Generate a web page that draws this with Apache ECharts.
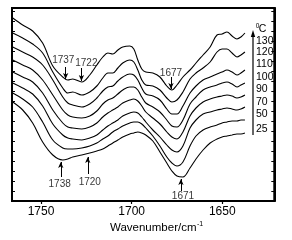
<!DOCTYPE html>
<html><head><meta charset="utf-8">
<script src="https://cdn.jsdelivr.net/npm/echarts@6/dist/echarts.min.js"></script>
<style>html,body{margin:0;padding:0;background:#fff}#c{width:292px;height:240px}</style>
</head><body><div id="c"></div>
<script>
// Wavenumber samples (cm-1)
const wavenumbers = [1765.6,1760.1,1754.6,1749.1,1743.5,1738.0,1735.2,1732.5,1727.5,1723.1,1719.2,1715.9,1713.1,1710.4,1707.6,1704.9,1701.0,1698.8,1696.6,1694.4,1692.2,1688.3,1684.4,1680.6,1677.8,1675.0,1671.7,1667.8,1664.5,1660.6,1656.7,1652.9,1650.1,1647.4,1644.6,1641.9,1639.7,1637.5];
// Temperatures (°C), top to bottom
const temperatures = ['130','120','110','100','90','70','50','25'];
// Offset absorbance traces (arbitrary units, stacked)
const t130 = [183,176,170,158,135,124,121,122,119,126,136,144,148,147,151,154,155,152,141,132,129,128,124,115,111,116,124,131,138,146,154,166,167,169,165,162,164,168];
const t120 = [168,163,157,148,129,113,108,109,106,109,115,123,128,128,133,138,141,139,131,121,116,115,111,103,99,101,109,122,128,133,139,149,152,152,148,144,146,149];
const t110 = [154,149,144,136,121,104,98,96,94,97,103,110,114,115,120,124,127,126,121,113,107,105,101,92,87,87,95,108,115,121,124,127,129,131,129,126,128,131];
const t100 = [141,136,131,121,106,91,86,84,83,85,90,97,101,103,107,111,114,114,111,104,98,94,89,81,75,74,81,97,104,111,114,116,118,119,117,114,116,118];
const t90  = [129,124,119,108,91,78,74,73,72,74,78,84,88,91,94,98,101,102,100,95,89,83,77,69,64,62,69,85,93,99,102,104,105,106,105,103,104,106];
const t70  = [118,113,107,95,77,66,63,62,61,63,66,71,75,78,81,85,88,89,88,84,79,71,64,56,51,49,55,73,81,87,89,91,92,93,92,91,92,94];
const t50  = [108,102,94,79,61,53,52,52,53,55,58,62,65,69,72,75,78,79,79,77,73,65,55,44,38,35,39,55,65,71,74,76,78,79,80,80,81,81];
const t25  = [99,91,78,59,46,41,42,44,46,48,50,52,55,58,61,64,67,68,69,68,66,60,49,38,30,25,24,33,42,51,58,62,64,65,66,67,67,68];
const traces = [t130,t120,t110,t100,t90,t70,t50,t25];
// X tick labels
const xTicks = [1750,1700,1650];
// Peak annotations: label, label position, arrow tail, arrow tip (data coords)
const peakLabels = ['1737','1722','1677','1738','1720','1671'];
const peakLabelPos = [[1737.7,141],[1725.0,138],[1678.3,128],[1739.7,16.5],[1723.1,18.3],[1671.7,5]];
const arrowTail = [[1736.4,134],[1727.7,133],[1678.3,124],[1739.1,24],[1724.2,27],[1672.8,10]];
const arrowTip  = [[1736.4,122],[1727.7,120],[1678.3,112],[1739.1,39],[1724.2,44],[1672.8,22]];

const FONT = "'Liberation Sans', Arial, sans-serif";
const chart = echarts.init(document.getElementById('c'), null, {renderer:'canvas'});

const series = traces.map((d,i)=>({
  name: temperatures[i],
  type:'line',
  data: wavenumbers.map((w,j)=>[w,d[j]]),
  smooth:0.35,
  showSymbol:false,
  lineStyle:{color:'#000',width:1.1},
  silent:true
}));
series[0].markLine = {
  silent:true,
  symbol:['none','arrow'],
  symbolSize:[4,6],
  label:{show:false},
  lineStyle:{color:'#000',width:1,type:'solid'},
  data: arrowTail.map((t,i)=>[{coord:t},{coord:arrowTip[i]}])
};
series.push({
  type:'scatter',
  symbolSize:1,
  itemStyle:{color:'rgba(0,0,0,0)'},
  silent:true,
  data: peakLabels.map((n,i)=>({name:n,value:peakLabelPos[i]})),
  label:{show:true,position:'inside',formatter:'{b}',color:'#000',fontSize:10,fontFamily:FONT}
});

const legendY = [41,52,64,77,89,102,114,129];
const graphics = temperatures.map((t,i)=>({
  type:'text', style:{text:t, x:256, y:legendY[i], verticalAlign:'middle', font:'10.5px '+FONT, fill:'#000'}
}));
graphics.push(
  {type:'line', shape:{x1:253,y1:135,x2:253,y2:34}, style:{stroke:'#000',lineWidth:1.2}},
  {type:'polygon', shape:{points:[[250.8,37],[255.2,37],[253,30]]}, style:{fill:'#000'}},
  {type:'text', style:{text:'0', x:257.5, y:26, align:'center', verticalAlign:'middle', font:'6.5px '+FONT, fill:'#000'}},
  {type:'text', style:{text:'C', x:262.5, y:29.5, align:'center', verticalAlign:'middle', font:'10.5px '+FONT, fill:'#000'}},
  {type:'text', style:{text:'Wavenumber/cm', x:110, y:228, verticalAlign:'middle', font:'11.5px '+FONT, fill:'#000'}},
  {type:'text', style:{text:'-1', x:197, y:224, verticalAlign:'middle', font:'7px '+FONT, fill:'#000'}}
);

chart.setOption({
  animation:false,
  backgroundColor:'#fff',
  grid:{left:12,right:17.7,top:8,bottom:39,show:true,borderColor:'#000',borderWidth:2},
  xAxis:[{
    type:'value', min:1621.3, max:1766, inverse:true,
    axisLine:{show:true,onZero:false,lineStyle:{color:'#000',width:2}},
    axisTick:{show:true,customValues:xTicks,length:3,lineStyle:{color:'#000',width:1.2}},
    axisLabel:{show:true,customValues:xTicks,margin:5,fontSize:12,color:'#000',fontFamily:FONT,formatter:v=>String(Math.round(v))},
    splitLine:{show:false}
  },{
    type:'value', position:'top', min:1621.3, max:1766, inverse:true,
    axisLine:{show:true,onZero:false,lineStyle:{color:'#000',width:2}},
    axisTick:{show:false}, axisLabel:{show:false}, splitLine:{show:false}
  }],
  yAxis:[{
    type:'value', min:0, max:193, interval:10,
    axisLine:{show:true,onZero:false,lineStyle:{color:'#000',width:2}},
    axisTick:{show:true,inside:true,length:3,lineStyle:{color:'#000',width:1}},
    axisLabel:{show:false}, splitLine:{show:false}
  },{
    type:'value', position:'right', min:0, max:193, interval:10,
    axisLine:{show:true,onZero:false,lineStyle:{color:'#000',width:2}},
    axisTick:{show:true,inside:true,length:3,lineStyle:{color:'#000',width:1}},
    axisLabel:{show:false}, splitLine:{show:false}
  }],
  graphic:graphics,
  series:series
});
</script></body></html>
